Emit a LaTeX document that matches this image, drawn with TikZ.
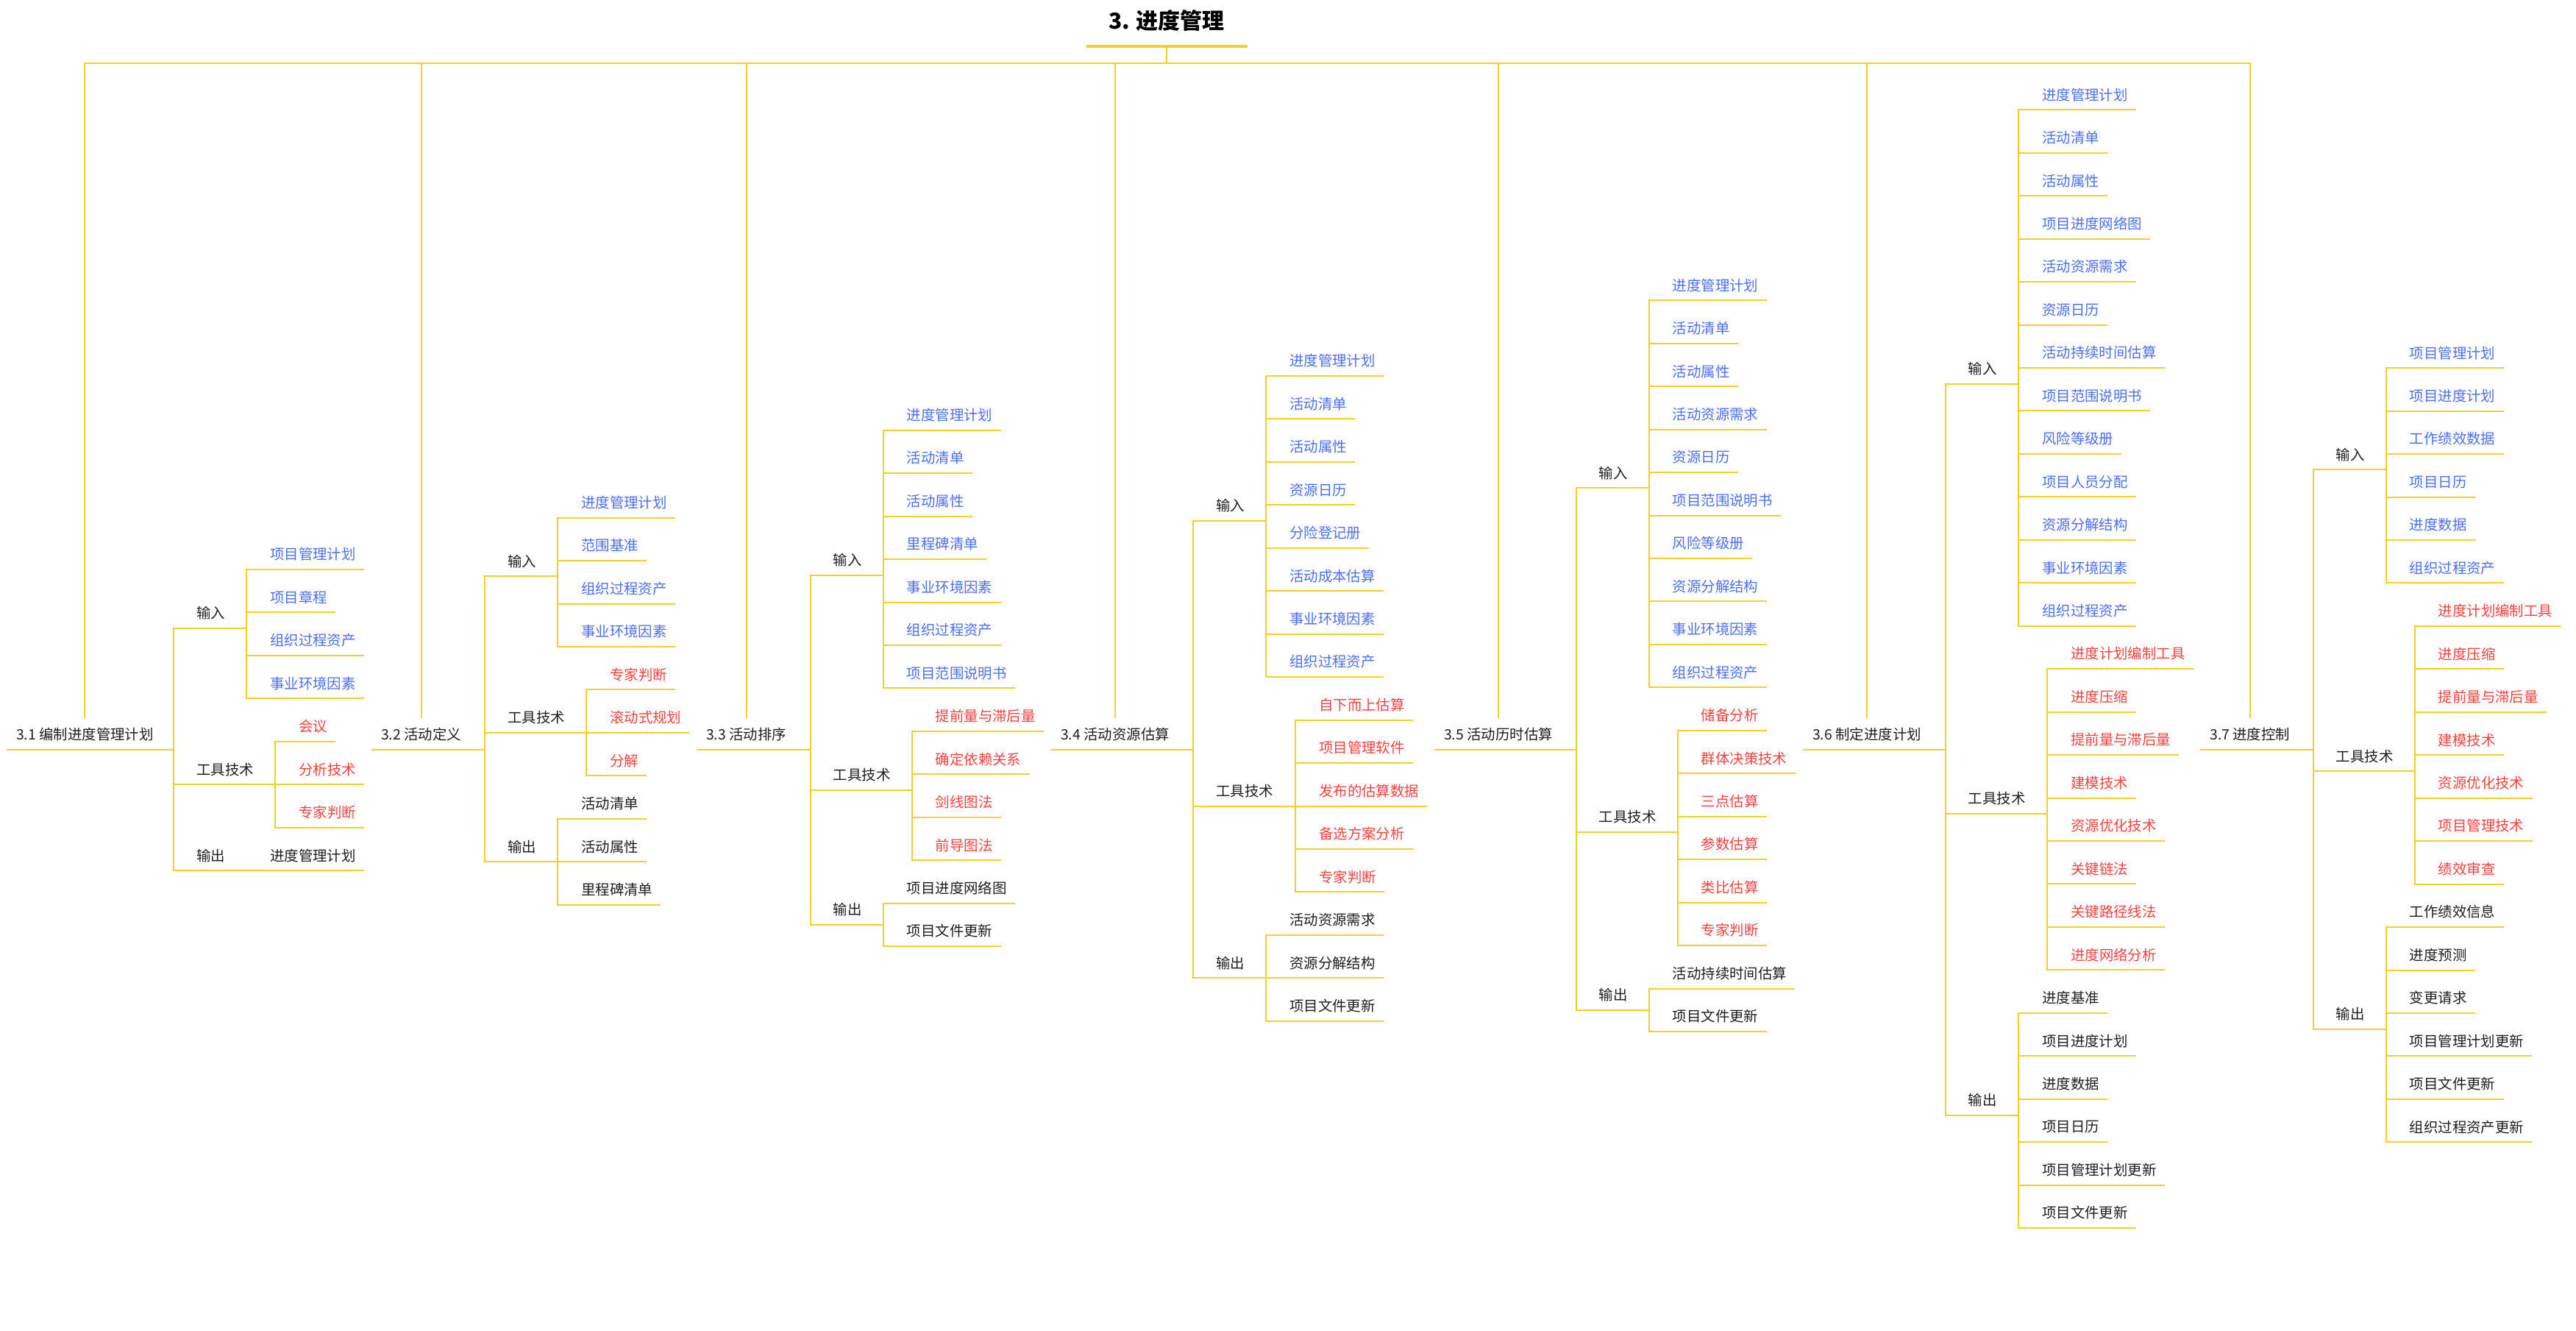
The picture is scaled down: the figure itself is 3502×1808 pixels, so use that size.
\documentclass[tikz,border=0pt]{standalone}
\usepackage{fontspec}
\setmainfont{Noto Sans CJK SC}
\definecolor{ylc}{RGB}{244,208,36}
\definecolor{bluec}{RGB}{76,110,245}
\definecolor{redc}{RGB}{245,64,64}
\definecolor{blackc}{RGB}{30,30,30}
\tikzset{
  ln/.style={draw=ylc,line width=2pt,line cap=rect},
  lab/.style={font=\fontsize{19.4pt}{22pt}\selectfont,inner sep=0pt,text height=18.5pt,text depth=13pt,text=blackc,anchor=south west},
  inp/.style={text=bluec},
  tool/.style={text=redc},
  outp/.style={text=blackc},
  ttl/.style={font=\fontsize{30pt}{36pt}\selectfont\bfseries,inner sep=0pt,text=black}
}
% #1 id, #2 Xsub, #3 label, #4 group line y, #5 Xg, #6 first item line y, #7 item style, #8 items
\newcommand\mkgrp[8]{%
  \node[lab] (#1) at ({#2+31},#4) {#3};
  \coordinate (#1v) at (#5,#4);
  \draw[ln] ([xshift=-31pt]#1.south west) -- (#1v);
  \foreach \t [count=\i from 0] in {#8} {
    \node[lab,#7] (#1-\i) at ({#5+32},{#6+58.45*\i}) {\t};
    \draw[ln] ([xshift=-32pt]#1-\i.south west) -- ([xshift=10pt]#1-\i.south east);
    \global\let\lastidx\i
  }
  \draw[ln] (#1v |- #1-0.south) -- (#1v |- #1-\lastidx.south);
}
% #1 id, #2 text x, #3 Xsub, #4 label
\newcommand\mksec[4]{%
  \node[lab] (#1) at (#2,1019) {#4};
  \coordinate (#1x) at (#3,1019);
  \draw[ln] ([xshift=-12pt]#1.south west) -- (#1x);
  \draw[ln] (#1.north |- bus) -- ([yshift=12.5pt]#1.north);
}
\begin{document}
\begin{tikzpicture}[x=1pt,y=-1pt]
\useasboundingbox (0,0) rectangle (3502,1808);
\coordinate (bus) at (0,86);
% title
\node[ttl] (title) at (1586,28) {3. 进度管理};
\coordinate (tuL) at (1477,63);
\coordinate (tuR) at (1696,63);
\coordinate (tuM) at (1586,63);
\draw[draw=ylc,line width=4.5pt] (tuL) -- (tuR);
\draw[ln] (tuM) -- (tuM |- bus);

% 3.1
\mksec{s1}{22}{236}{3.1 编制进度管理计划}
\mkgrp{a1}{236}{输入}{854}{335}{774}{inp}{项目管理计划,项目章程,组织过程资产,事业环境因素}
\mkgrp{a2}{236}{工具技术}{1066.3}{374}{1007.8}{tool}{会议,分析技术,专家判断}
\mkgrp{a3}{236}{输出}{1183.2}{335}{1183.2}{outp}{进度管理计划}
\draw[ln] (s1x |- a1.south) -- (s1x |- a3.south);

% 3.2
\mksec{s2}{518}{659}{3.2 活动定义}
\mkgrp{b1}{659}{输入}{783.3}{758}{703.6}{inp}{进度管理计划,范围基准,组织过程资产,事业环境因素}
\mkgrp{b2}{659}{工具技术}{995.9}{797}{937.4}{tool}{专家判断,滚动式规划,分解}
\mkgrp{b3}{659}{输出}{1171.2}{758}{1112.8}{outp}{活动清单,活动属性,里程碑清单}
\draw[ln] (s2x |- b1.south) -- (s2x |- b3.south);

% 3.3
\mksec{s3}{960}{1101.7}{3.3 活动排序}
\mkgrp{c1}{1101.7}{输入}{782}{1200.7}{584.7}{inp}{进度管理计划,活动清单,活动属性,里程碑清单,事业环境因素,组织过程资产,项目范围说明书}
\mkgrp{c2}{1101.7}{工具技术}{1073.5}{1239.7}{993.9}{tool}{提前量与滞后量,确定依赖关系,剑线图法,前导图法}
\mkgrp{c3}{1101.7}{输出}{1256.9}{1200.7}{1227.7}{outp}{项目进度网络图,项目文件更新}
\draw[ln] (s3x |- c1.south) -- (s3x |- c3.south);

% 3.4
\mksec{s4}{1442}{1622}{3.4 活动资源估算}
\mkgrp{d1}{1622}{输入}{708}{1721}{511}{inp}{进度管理计划,活动清单,活动属性,资源日历,分险登记册,活动成本估算,事业环境因素,组织过程资产}
\mkgrp{d2}{1622}{工具技术}{1095.5}{1761}{978.6}{tool}{自下而上估算,项目管理软件,发布的估算数据,备选方案分析,专家判断}
\mkgrp{d3}{1622}{输出}{1329.3}{1721}{1270.85}{outp}{活动资源需求,资源分解结构,项目文件更新}
\draw[ln] (s4x |- d1.south) -- (s4x |- d3.south);

% 3.5
\mksec{s5}{1963}{2142.7}{3.5 活动历时估算}
\mkgrp{e1}{2142.7}{输入}{663.3}{2241.7}{408.3}{inp}{进度管理计划,活动清单,活动属性,活动资源需求,资源日历,项目范围说明书,风险等级册,资源分解结构,事业环境因素,组织过程资产}
\mkgrp{e2}{2142.7}{工具技术}{1131}{2280.7}{992.8}{tool}{储备分析,群体决策技术,三点估算,参数估算,类比估算,专家判断}
\mkgrp{e3}{2142.7}{输出}{1372.7}{2241.7}{1343.5}{outp}{活动持续时间估算,项目文件更新}
\draw[ln] (s5x |- e1.south) -- (s5x |- e3.south);

% 3.6
\mksec{s6}{2464}{2644.6}{3.6 制定进度计划}
\mkgrp{f1}{2644.6}{输入}{522}{2744}{149.3}{inp}{进度管理计划,活动清单,活动属性,项目进度网络图,活动资源需求,资源日历,活动持续时间估算,项目范围说明书,风险等级册,项目人员分配,资源分解结构,事业环境因素,组织过程资产}
\mkgrp{f2}{2644.6}{工具技术}{1105.7}{2783}{909.15}{tool}{进度计划编制工具,进度压缩,提前量与滞后量,建模技术,资源优化技术,关键链法,关键路径线法,进度网络分析}
\mkgrp{f3}{2644.6}{输出}{1515.5}{2744}{1376.75}{outp}{进度基准,项目进度计划,进度数据,项目日历,项目管理计划更新,项目文件更新}
\draw[ln] (s6x |- f1.south) -- (s6x |- f3.south);

% 3.7
\mksec{s7}{3004}{3144.7}{3.7 进度控制}
\mkgrp{g1}{3144.7}{输入}{638.3}{3243.7}{500.2}{inp}{项目管理计划,项目进度计划,工作绩效数据,项目日历,进度数据,组织过程资产}
\mkgrp{g2}{3144.7}{工具技术}{1048.3}{3282.7}{850.9}{tool}{进度计划编制工具,进度压缩,提前量与滞后量,建模技术,资源优化技术,项目管理技术,绩效审查}
\mkgrp{g3}{3144.7}{输出}{1399}{3243.7}{1260.05}{outp}{工作绩效信息,进度预测,变更请求,项目管理计划更新,项目文件更新,组织过程资产更新}
\draw[ln] (s7x |- g1.south) -- (s7x |- g3.south);

% bus
\draw[ln] (s1.north |- bus) -- (s7.north |- bus);
\end{tikzpicture}
\end{document}
